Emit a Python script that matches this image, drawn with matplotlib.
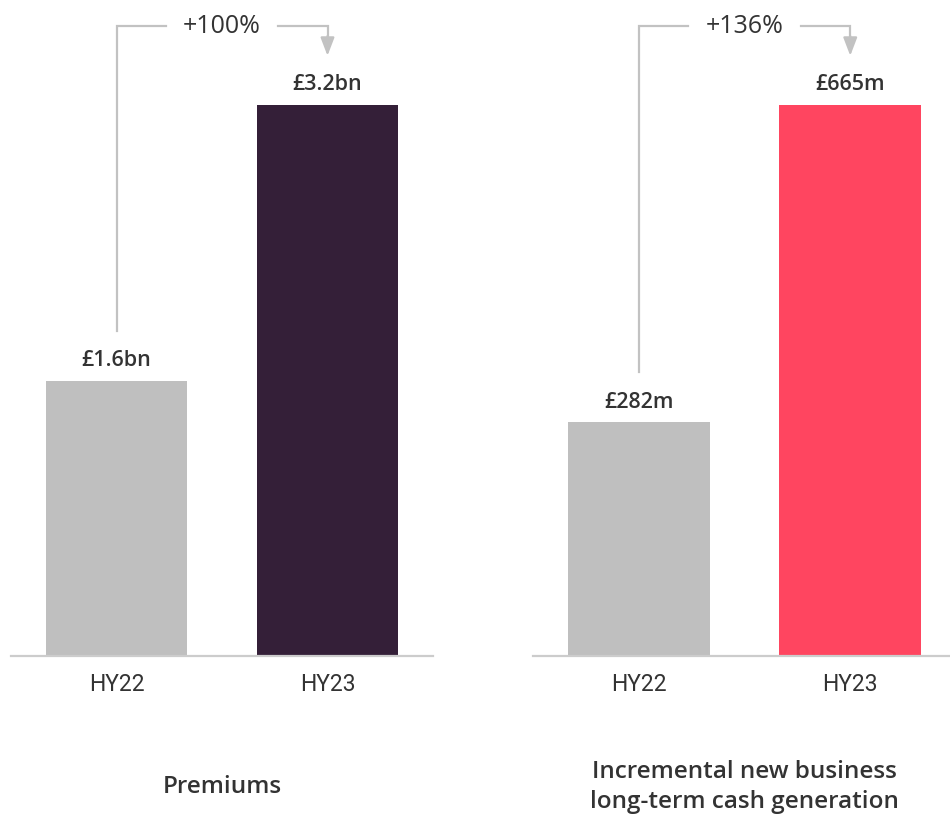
import matplotlib
matplotlib.use('Agg')
import matplotlib.pyplot as plt
from matplotlib import transforms

plt.rcParams['font.family'] = ['Open Sans', 'DejaVu Sans']

# data
periods = ['HY22', 'HY23']
premiums = [1.6, 3.2]
premium_labels = ['£1.6bn', '£3.2bn']
cash_gen = [282, 665]
cash_labels = ['£282m', '£665m']
growth = ['+100%', '+136%']
titles = ['Premiums', 'Incremental new business\nlong-term cash generation']

grey = '#bfbfbf'
colors_left = [grey, '#341f38']
colors_right = [grey, '#ff4560']
text_col = '#333333'
line_col = '#c2c2c2'

fig = plt.figure(figsize=(9.5, 8.16), dpi=100)
ax1 = fig.add_axes([11 / 950, 160 / 816, 422 / 950, 656 / 816])
ax2 = fig.add_axes([533 / 950, 160 / 816, 423 / 950, 656 / 816])


def draw_panel(ax, vals, labels, colors, pct, title):
    x = list(range(len(vals)))
    ymax = max(vals) * 656 / 551
    ax.bar(x, vals, width=0.67, color=colors, zorder=2)
    ax.set_xlim(-0.5, 1.5)
    ax.set_ylim(0, ymax)
    for s in ['top', 'right', 'left']:
        ax.spines[s].set_visible(False)
    ax.spines['bottom'].set_color('#cccccc')
    ax.spines['bottom'].set_linewidth(1.6)
    ax.set_yticks([])
    ax.set_xticks(x)
    ax.set_xticklabels(periods, fontsize=16.5, color=text_col,
                       family=['Roboto', 'DejaVu Sans'])
    ax.tick_params(axis='x', length=0, pad=12)

    for xi, v, lab in zip(x, vals, labels):
        ax.annotate(lab, (xi, v), xytext=(0, 7), textcoords='offset points',
                    ha='center', va='bottom', fontsize=15.5, fontweight='semibold',
                    color=text_col)

    # connector from first bar to second bar
    tr = transforms.blended_transform_factory(ax.transData, ax.transAxes)
    top = 0.96
    start = vals[0] / ymax + 50 / 656
    gap = 0.265
    ax.plot([0, 0, 0.5 - gap], [start, top, top], color=line_col, lw=1.6,
            transform=tr, solid_joinstyle='miter', clip_on=False)
    ax.plot([0.5 + gap, 1, 1], [top, top, top - 0.02], color=line_col, lw=1.6,
            transform=tr, solid_joinstyle='miter', clip_on=False)
    ax.annotate('', xy=(1, 0.915), xytext=(1, top - 0.015), xycoords=tr, textcoords=tr,
                arrowprops=dict(arrowstyle='-|>,head_length=1.1,head_width=0.42',
                                mutation_scale=10, color=line_col, lw=1.6,
                                shrinkA=0, shrinkB=0))
    ax.text(0.5, top, pct, transform=tr, ha='center', va='center',
            fontsize=18, color=text_col)

    ax.text(0.5, -0.2, title, transform=ax.transAxes, ha='center', va='center',
            fontsize=17.5, fontweight='semibold', color=text_col, linespacing=1.35)


draw_panel(ax1, premiums, premium_labels, colors_left, growth[0], titles[0])
draw_panel(ax2, cash_gen, cash_labels, colors_right, growth[1], titles[1])

fig.savefig('out.png', dpi=100)
